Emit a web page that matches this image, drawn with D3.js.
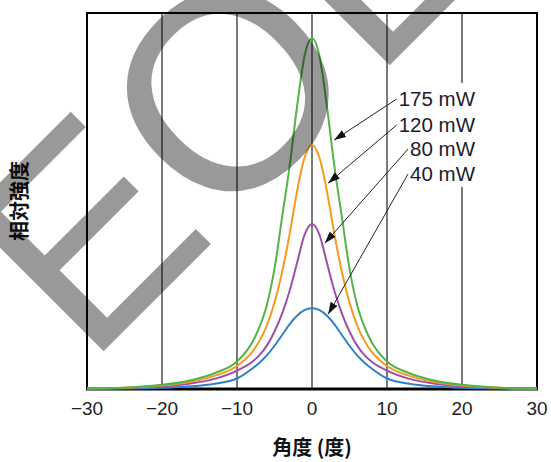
<!DOCTYPE html>
<html>
<head>
<meta charset="utf-8">
<script src="https://cdn.jsdelivr.net/npm/d3@7"></script>
<style>
  html, body { margin: 0; padding: 0; background: #fff; }
  svg { display: block; }
</style>
</head>
<body>
<div id="chart"></div>
<script>
// Angle samples (deg) and relative intensity
const angles = [-30, -25, -20, -16, -13, -10, -8, -7, -6, -5, -4, -3, -2, -1, 0, 1, 2, 3, 4, 5, 6, 7, 8, 10, 13, 16, 20, 25, 30];
const int175 = [0.1, 0.35, 1.1, 2.4, 4.2, 7.3, 12.3, 16.5, 22.5, 32, 45.5, 59, 75, 88.5, 93.3, 88.5, 75, 59, 45.5, 32, 22.5, 16.5, 12.3, 7.3, 4.2, 2.4, 1.1, 0.35, 0.1];
const int120 = [0.1, 0.3, 0.9, 2.0, 3.5, 6.1, 9.8, 12.8, 17, 23, 31, 41, 52.5, 61.5, 64.9, 61.5, 52.5, 41, 31, 23, 17, 12.8, 9.8, 6.1, 3.5, 2.0, 0.9, 0.3, 0.1];
const int80 = [0.08, 0.25, 0.7, 1.5, 2.7, 4.9, 7.2, 9, 11.6, 15.3, 20, 26, 33.5, 41, 43.9, 41, 33.5, 26, 20, 15.3, 11.6, 9, 7.2, 4.9, 2.7, 1.5, 0.7, 0.25, 0.08];
const int40 = [0.04, 0.1, 0.3, 0.7, 1.4, 2.8, 5.4, 7, 9, 11.5, 14.3, 17.2, 19.5, 21, 21.5, 21, 19.5, 17.2, 14.3, 11.5, 9, 7, 5.4, 2.8, 1.4, 0.7, 0.3, 0.1, 0.04];

const seriesNames = ['175 mW', '120 mW', '80 mW', '40 mW'];
const seriesValues = [int175, int120, int80, int40];
const seriesColors = ['#52b447', '#f7981f', '#9b4fa8', '#2f80cc'];

const xTicks = [-30, -20, -10, 0, 10, 20, 30];
const xGrid = [-20, -10, 0, 10, 20];

const width = 551, height = 462;
const margin = { top: 13, right: 14, bottom: 73, left: 87 };
const plotW = width - margin.left - margin.right;
const plotH = height - margin.top - margin.bottom;

const svg = d3.select('#chart').append('svg')
    .attr('width', width)
    .attr('height', height);

const defs = svg.append('defs');
defs.append('marker')
    .attr('id', 'arrowHead')
    .attr('markerUnits', 'userSpaceOnUse')
    .attr('viewBox', '0 0 12 8')
    .attr('refX', 12)
    .attr('refY', 4)
    .attr('markerWidth', 12)
    .attr('markerHeight', 8)
    .attr('orient', 'auto')
    .append('path')
    .attr('d', 'M0,0 L12,4 L0,8 Z')
    .attr('fill', '#111');

const x = d3.scaleLinear().domain([-30, 30]).range([margin.left, margin.left + plotW]);
const y = d3.scaleLinear().domain([0, 100]).range([margin.top + plotH, margin.top]);

// grid
svg.append('g')
    .selectAll('line')
    .data(xGrid)
    .enter()
    .append('line')
    .attr('x1', d => x(d))
    .attr('x2', d => x(d))
    .attr('y1', margin.top)
    .attr('y2', margin.top + plotH)
    .attr('stroke', '#222')
    .attr('stroke-width', 1.2);

// white box behind the power labels
svg.append('rect')
    .attr('x', 393)
    .attr('y', 83)
    .attr('width', 88)
    .attr('height', 104)
    .attr('fill', '#fff');

// frame
svg.append('rect')
    .attr('x', margin.left)
    .attr('y', margin.top)
    .attr('width', plotW)
    .attr('height', plotH)
    .attr('fill', 'none')
    .attr('stroke', '#000')
    .attr('stroke-width', 2);

svg.append('line')
    .attr('x1', margin.left - 1)
    .attr('x2', margin.left + plotW + 1)
    .attr('y1', y(0))
    .attr('y2', y(0))
    .attr('stroke', '#000')
    .attr('stroke-width', 3);

// curves
const line = d3.line()
    .x((d, i) => x(angles[i]))
    .y(d => y(d))
    .curve(d3.curveMonotoneX);

const order = [3, 2, 1, 0];
order.forEach(k => {
    svg.append('path')
        .datum(seriesValues[k])
        .attr('fill', 'none')
        .attr('stroke', seriesColors[k])
        .attr('stroke-width', 2)
        .attr('d', line);
});

// x tick labels
const fmt = d => d < 0 ? '\u2212' + Math.abs(d) : String(d);
svg.append('g')
    .selectAll('text')
    .data(xTicks)
    .enter()
    .append('text')
    .attr('x', d => x(d))
    .attr('y', 415)
    .attr('text-anchor', 'middle')
    .style('font-family', '"Liberation Sans", Arial, sans-serif')
    .style('font-size', '19px')
    .style('fill', '#222')
    .text(fmt);

// axis titles
svg.append('text')
    .attr('x', x(0))
    .attr('y', 455)
    .attr('text-anchor', 'middle')
    .style('font-family', '"Noto Sans CJK JP", sans-serif')
    .style('font-size', '20px')
    .style('font-weight', 'bold')
    .style('fill', '#111')
    .text('角度 (度)');

svg.append('text')
    .attr('transform', 'translate(27,201) rotate(-90)')
    .attr('text-anchor', 'middle')
    .style('font-family', '"Noto Sans CJK JP", sans-serif')
    .style('font-size', '20px')
    .style('font-weight', 'bold')
    .style('fill', '#111')
    .text('相対強度');

// power labels with leader arrows
const labelRight = 475;
const labelBase = [106, 132, 156, 181];
const tipAngle = [2.55, 1.75, 1.3, 1.75];

function valueAt(vals, a) {
    for (let i = 0; i < angles.length - 1; i++) {
        if (a >= angles[i] && a <= angles[i + 1]) {
            const t = (a - angles[i]) / (angles[i + 1] - angles[i]);
            return vals[i] + t * (vals[i + 1] - vals[i]);
        }
    }
    return 0;
}

seriesNames.forEach((name, k) => {
    const t = svg.append('text')
        .attr('x', labelRight)
        .attr('y', labelBase[k])
        .attr('text-anchor', 'end')
        .style('font-family', '"Liberation Sans", Arial, sans-serif')
        .style('font-size', '20.5px')
        .style('fill', '#1c1c2a')
        .text(name);
    const w = t.node().getComputedTextLength();
    const sx = labelRight - w - 2;
    const sy = labelBase[k] - 7;
    const tx = x(tipAngle[k]) + 3;
    const ty = y(valueAt(seriesValues[k], tipAngle[k]));
    svg.append('line')
        .attr('x1', sx)
        .attr('y1', sy)
        .attr('x2', tx)
        .attr('y2', ty)
        .attr('stroke', '#222')
        .attr('stroke-width', 1)
        .attr('marker-end', 'url(#arrowHead)');
});

// EOL watermark
svg.append('text')
    .attr('transform', 'translate(87.4,367.6) rotate(-45)')
    .style('font-family', '"Liberation Sans", Arial, sans-serif')
    .style('font-size', '280px')
    .style('fill', '#000')
    .style('fill-opacity', 0.4)
    .text('EOL');
</script>
</body>
</html>
